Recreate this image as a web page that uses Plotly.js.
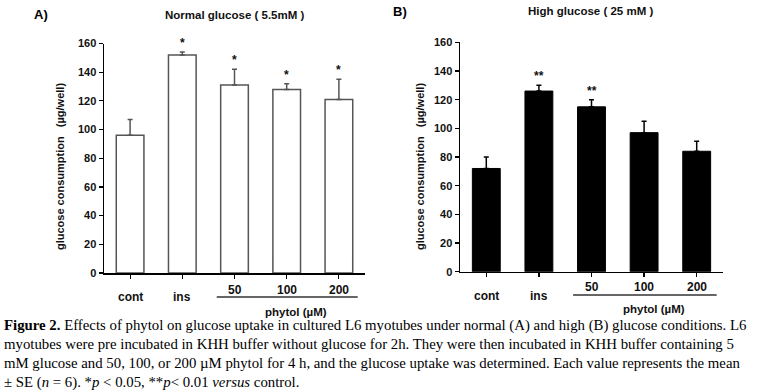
<!DOCTYPE html>
<html>
<head>
<meta charset="utf-8">
<script src="https://cdn.plot.ly/plotly-3.0.1.min.js"></script>
<style>html,body{margin:0;padding:0;background:#fff;}#chart{width:757px;height:390px;}</style>
</head>
<body>
<div id="chart"></div>
<script>
// ---- data ----
var categories = ['cont', 'ins', '50', '100', '200'];
var normalMeans = [96, 152, 131, 128, 121];
var normalErr = [11, 2, 11, 4, 14];
var normalSig = ['', '*', '*', '*', '*'];
var highMeans = [72, 126, 115, 97, 84];
var highErr = [8, 4, 5, 8, 7];
var highSig = ['', '**', '**', '', ''];
var yTicks = [0, 20, 40, 60, 80, 100, 120, 140, 160];
var groupLabel = 'phytol (µM)';
var yTitle = 'glucose consumption&nbsp;&nbsp;&nbsp;(µg/well)';
var titleA = 'Normal glucose ( 5.5mM )';
var titleB = 'High glucose ( 25 mM )';
var captionLines = [
  '<b>Figure 2.</b> Effects of phytol on glucose uptake in cultured L6 myotubes under normal (A) and high (B) glucose conditions. L6',
  'myotubes were pre incubated in KHH buffer without glucose for 2h. They were then incubated in KHH buffer containing 5',
  'mM glucose and 50, 100, or 200 µM phytol for 4 h, and the glucose uptake was determined. Each value represents the mean',
  '± SE (<i>n</i> = 6). *<i>p</i> &lt; 0.05, **<i>p</i>&lt; 0.01 <i>versus</i> control.'
];

var H = 390, W = 757;
function py(px) { return 1 - px / H; }
function pxX(px) { return px / W; }

var font = 'Arial, "Liberation Sans", sans-serif';
var traces = [
  {type: 'bar', x: categories, y: normalMeans, xaxis: 'x', yaxis: 'y', width: 0.53,
   marker: {color: '#ffffff', line: {color: '#555555', width: 1.5}},
   error_y: {type: 'data', symmetric: false, array: normalErr, arrayminus: normalErr.map(function(){return 0;}),
             color: '#555555', thickness: 1.5, width: 2.5},
   hoverinfo: 'none', showlegend: false},
  {type: 'bar', x: categories, y: highMeans, xaxis: 'x2', yaxis: 'y2', width: 0.53,
   marker: {color: '#000000', line: {color: '#000000', width: 1}},
   error_y: {type: 'data', symmetric: false, array: highErr, arrayminus: highErr.map(function(){return 0;}),
             color: '#000000', thickness: 1.5, width: 2.5},
   hoverinfo: 'none', showlegend: false}
];

function xaxisDef(d0, d1, anchor) {
  return {domain: [d0, d1], anchor: anchor, type: 'category', range: [-0.5, 4.5],
          showline: true, linecolor: '#000', linewidth: 1.5, ticks: 'outside', ticklen: 4,
          tickwidth: 1.2, tickcolor: '#000', showticklabels: false, showgrid: false, zeroline: false, fixedrange: true};
}
function yaxisDef(d0, d1, anchor) {
  return {domain: [d0, d1], anchor: anchor, range: [0, 160], tickvals: yTicks,
          showline: true, linecolor: '#000', linewidth: 1.5, ticks: 'outside', ticklen: 4,
          tickwidth: 1.2, tickcolor: '#000', showgrid: false, zeroline: false, fixedrange: true,
          tickfont: {family: font, size: 11, color: '#111', weight: 'bold'}};
}

var ann = [];
function addPanel(xr, yr, means, errs, sigs, titleText, letter, titleX, titleY, letterX, letterY, ytX, ytY, numY, contY, phytolX, phytolY) {
  ann.push({text: '<b>' + letter + '</b>', xref: 'paper', yref: 'paper', x: pxX(letterX), y: py(letterY),
            xanchor: 'center', yanchor: 'middle', showarrow: false, font: {family: font, size: 13, color: '#000'}});
  ann.push({text: '<b>' + titleText + '</b>', xref: 'paper', yref: 'paper', x: pxX(titleX), y: py(titleY),
            xanchor: 'center', yanchor: 'middle', showarrow: false, font: {family: font, size: 11.5, color: '#111'}});
  ann.push({text: '<b>' + yTitle + '</b>', xref: 'paper', yref: 'paper', x: pxX(ytX), y: py(ytY), textangle: -90,
            xanchor: 'center', yanchor: 'middle', showarrow: false, font: {family: font, size: 11, color: '#111'}});
  for (var i = 0; i < categories.length; i++) {
    var isDose = i >= 2;
    ann.push({text: '<b>' + categories[i] + '</b>', xref: xr, yref: 'paper', x: i, y: py(isDose ? numY : contY),
              xanchor: 'center', yanchor: 'middle', showarrow: false, font: {family: font, size: 12, color: '#111'}});
    if (sigs[i]) {
      ann.push({text: '<b>' + sigs[i] + '</b>', xref: xr, yref: yr, x: i, y: means[i] + errs[i],
                xanchor: 'center', yanchor: 'bottom', yshift: 0, showarrow: false, font: {family: font, size: 12, color: '#111'}});
    }
  }
  ann.push({text: '<b>' + groupLabel + '</b>', xref: 'paper', yref: 'paper', x: pxX(phytolX), y: py(phytolY),
            xanchor: 'center', yanchor: 'middle', showarrow: false, font: {family: font, size: 11.5, color: '#111'}});
}

addPanel('x', 'y', normalMeans, normalErr, normalSig, titleA, 'A)', 235, 15, 41, 15, 60, 167, 290, 297, 296, 312);
addPanel('x2', 'y2', highMeans, highErr, highSig, titleB, 'B)', 590, 11, 400, 11, 420, 167, 287, 296, 654, 309);

var capY = [325, 344, 363, 382];
captionLines.forEach(function(t, k) {
  ann.push({text: t, xref: 'paper', yref: 'paper', x: pxX(2), y: py(capY[k]), xanchor: 'left', yanchor: 'middle',
            showarrow: false, font: {family: '"Liberation Serif", "Times New Roman", serif', size: 14.8, color: '#000'}});
});

var shapes = [
  {type: 'line', xref: 'x', yref: 'paper', x0: 1.66, x1: 4.36, y0: py(297), y1: py(297), line: {color: '#333', width: 1.5}},
  {type: 'line', xref: 'x2', yref: 'paper', x0: 1.65, x1: 4.38, y0: py(295), y1: py(295), line: {color: '#333', width: 1.5}}
];

var layout = {
  width: W, height: H, margin: {l: 0, r: 0, t: 0, b: 0}, paper_bgcolor: '#fff', plot_bgcolor: 'rgba(0,0,0,0)',
  showlegend: false, bargap: 0.47,
  xaxis: xaxisDef(pxX(104), pxX(365), 'y'),
  yaxis: yaxisDef(py(273), py(43.5), 'x'),
  xaxis2: xaxisDef(pxX(460), pxX(723), 'y2'),
  yaxis2: yaxisDef(py(271.7), py(42.3), 'x2'),
  annotations: ann, shapes: shapes
};

Plotly.newPlot('chart', traces, layout, {staticPlot: true, displayModeBar: false});
</script>
</body>
</html>
